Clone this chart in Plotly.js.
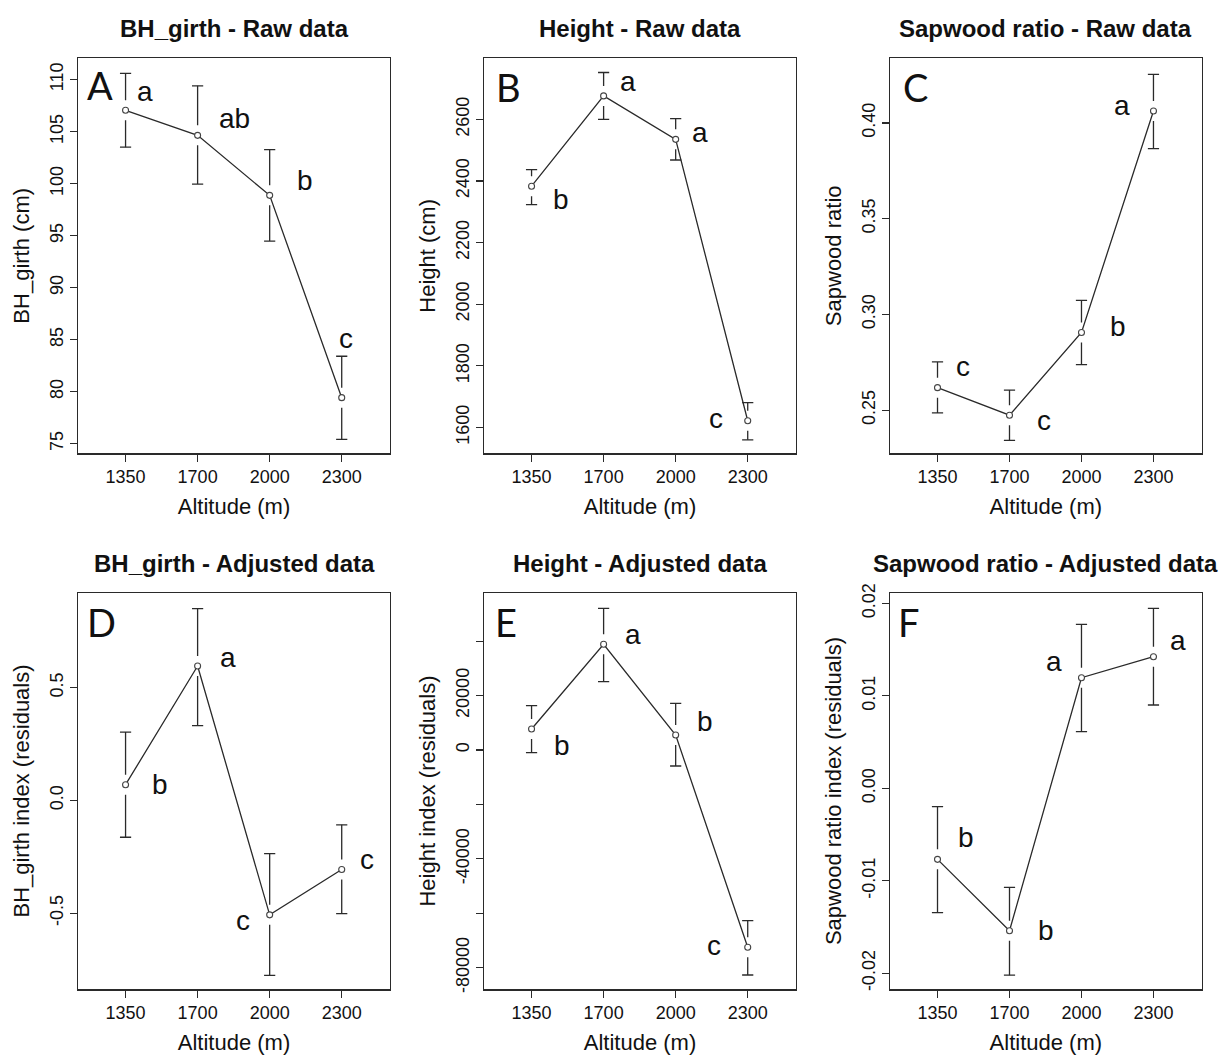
<!DOCTYPE html>
<html><head><meta charset="utf-8">
<script src="https://cdn.plot.ly/plotly-3.0.1.min.js"></script>
<style>html,body{margin:0;padding:0;background:#fff}#chart{width:1223px;height:1055px}</style>
</head><body><div id="chart"></div>
<script>
// ---------------- DATA ----------------
const altitudes = ['1350', '1700', '2000', '2300'];

const girthRawMean  = [107.05, 104.64, 98.87, 79.42];
const girthRawUpper = [110.6, 109.4, 103.27, 83.4];
const girthRawLower = [103.5, 99.96, 94.48, 75.4];
const girthRawLetters = ['a', 'ab', 'b', 'c'];

const heightRawMean  = [2383, 2676, 2535, 1622];
const heightRawUpper = [2437, 2752, 2602, 1681];
const heightRawLower = [2323, 2600, 2468, 1560];
const heightRawLetters = ['b', 'a', 'a', 'c'];

const sapRawMean  = [0.2618, 0.2474, 0.2906, 0.4063];
const sapRawUpper = [0.2752, 0.2605, 0.3074, 0.4254];
const sapRawLower = [0.2486, 0.2343, 0.2738, 0.3866];
const sapRawLetters = ['c', 'c', 'b', 'a'];

const girthAdjMean  = [0.070, 0.596, -0.507, -0.306];
const girthAdjUpper = [0.303, 0.850, -0.236, -0.108];
const girthAdjLower = [-0.163, 0.332, -0.775, -0.502];
const girthAdjLetters = ['b', 'a', 'c', 'c'];

const heightAdjMean  = [7718, 38846, 5513, -72510];
const heightAdjUpper = [16280, 52077, 17163, -62734];
const heightAdjLower = [-992, 25101, -5880, -82690];
const heightAdjLetters = ['b', 'a', 'b', 'c'];

const sapAdjMean  = [-0.00768, -0.0154, 0.01196, 0.01423];
const sapAdjUpper = [-0.00199, -0.0107, 0.01773, 0.01946];
const sapAdjLower = [-0.01345, -0.0202, 0.00612, 0.00901];
const sapAdjLetters = ['b', 'b', 'a', 'a'];

// tick values / labels
const girthRawTicks = [75, 80, 85, 90, 95, 100, 105, 110];
const girthRawTickText = ['75', '80', '85', '90', '95', '100', '105', '110'];
const heightRawTicks = [1600, 1800, 2000, 2200, 2400, 2600];
const heightRawTickText = ['1600', '1800', '2000', '2200', '2400', '2600'];
const sapRawTicks = [0.25, 0.30, 0.35, 0.40];
const sapRawTickText = ['0.25', '0.30', '0.35', '0.40'];
const girthAdjTicks = [-0.5, 0.0, 0.5];
const girthAdjTickText = ['-0.5', '0.0', '0.5'];
const heightAdjTicks = [-80000, -60000, -40000, -20000, 0, 20000, 40000];
const heightAdjTickText = ['-80000', '', '-40000', '', '0', '20000', ''];
const sapAdjTicks = [-0.02, -0.01, 0.00, 0.01, 0.02];
const sapAdjTickText = ['-0.02', '-0.01', '0.00', '0.01', '0.02'];

const panelTitles = ['BH_girth - Raw data', 'Height - Raw data', 'Sapwood ratio - Raw data',
  'BH_girth - Adjusted data', 'Height - Adjusted data', 'Sapwood ratio - Adjusted data'];
const yTitles = ['BH_girth (cm)', 'Height (cm)', 'Sapwood ratio',
  'BH_girth index (residuals)', 'Height index (residuals)', 'Sapwood ratio index (residuals)'];
const panelLabels = ['A', 'B', 'C', 'D', 'E', 'F'];
const xTitle = 'Altitude (m)';

// ---------------- LAYOUT CONFIG ----------------
const W = 1223, H = 1055;
const colDomains = [[78 / W, 390 / W], [484 / W, 796 / W], [890 / W, 1201.7 / W]];
const rowDomains = [[1 - 453.3 / H, 1 - 58.3 / H], [1 - 989.3 / H, 1 - 592.7 / H]];

const panels = [
  { mean: girthRawMean, up: girthRawUpper, lo: girthRawLower, letters: girthRawLetters,
    range: [74.07, 112.05], tv: girthRawTicks, tt: girthRawTickText,
    off: [[19, -17], [37, -15], [35, -13], [4, -57]], lab: [0.072, 0.932] },
  { mean: heightRawMean, up: heightRawUpper, lo: heightRawLower, letters: heightRawLetters,
    range: [1516.4, 2798], tv: heightRawTicks, tt: heightRawTickText,
    off: [[29, 15], [24, -12], [24, -5], [-32, 0]], lab: [0.080, 0.927] },
  { mean: sapRawMean, up: sapRawUpper, lo: sapRawLower, letters: sapRawLetters,
    range: [0.2275, 0.4338], tv: sapRawTicks, tt: sapRawTickText,
    off: [[25, -19], [34, 7], [37, -4], [-31, -3]], lab: [0.083, 0.927] },
  { mean: girthAdjMean, up: girthAdjUpper, lo: girthAdjLower, letters: girthAdjLetters,
    range: [-0.837, 0.921], tv: girthAdjTicks, tt: girthAdjTickText,
    off: [[34, 2], [30, -7], [-27, 8], [25, -8]], lab: [0.075, 0.927] },
  { mean: heightAdjMean, up: heightAdjUpper, lo: heightAdjLower, letters: heightAdjLetters,
    range: [-87946, 57810], tv: heightAdjTicks, tt: heightAdjTickText,
    off: [[30, 18], [29, -8], [29, -12], [-34, 0]], lab: [0.070, 0.927] },
  { mean: sapAdjMean, up: sapAdjUpper, lo: sapAdjLower, letters: sapAdjLetters,
    range: [-0.02173, 0.02115], tv: sapAdjTicks, tt: sapAdjTickText,
    off: [[28, -20], [36, 2], [-27, -14], [25, -14]], lab: [0.061, 0.927] }
];

const INK = '#2a2a2a';
const FONT = 'Liberation Sans, Arial, Helvetica, sans-serif';
const GAP_PX = 10;

const traces = [];
const layout = {
  width: W, height: H,
  margin: { l: 0, r: 0, t: 0, b: 0 },
  paper_bgcolor: '#ffffff', plot_bgcolor: '#ffffff',
  showlegend: false,
  font: { family: FONT, color: '#111' },
  annotations: []
};

panels.forEach((p, k) => {
  const row = Math.floor(k / 3), col = k % 3;
  const n = k + 1;
  const xa = 'x' + (n === 1 ? '' : n), ya = 'y' + (n === 1 ? '' : n);
  const xkey = 'xaxis' + (n === 1 ? '' : n), ykey = 'yaxis' + (n === 1 ? '' : n);
  const yd = rowDomains[row], xd = colDomains[col];
  const plotH = (yd[1] - yd[0]) * H;
  const g = GAP_PX * (p.range[1] - p.range[0]) / plotH;

  // error bar stems with a gap around the point
  const sx = [], sy = [];
  altitudes.forEach((a, i) => {
    if (p.up[i] > p.mean[i] + g) { sx.push(a, a, null); sy.push(p.up[i], p.mean[i] + g, null); }
    if (p.lo[i] < p.mean[i] - g) { sx.push(a, a, null); sy.push(p.mean[i] - g, p.lo[i], null); }
  });
  traces.push({ type: 'scatter', mode: 'lines', x: sx, y: sy, xaxis: xa, yaxis: ya,
    line: { color: INK, width: 1.3 }, hoverinfo: 'skip', connectgaps: false });
  // caps
  traces.push({ type: 'scatter', mode: 'markers', x: altitudes.concat(altitudes),
    y: p.up.concat(p.lo), xaxis: xa, yaxis: ya,
    marker: { symbol: 'line-ew', size: 8, line: { color: INK, width: 1.3 } }, hoverinfo: 'skip' });
  // means
  traces.push({ type: 'scatter', mode: 'lines+markers', x: altitudes, y: p.mean, xaxis: xa, yaxis: ya,
    line: { color: INK, width: 1.3 },
    marker: { symbol: 'circle', size: 6, color: '#ffffff', line: { color: '#444', width: 1.1 } } });

  layout[xkey] = {
    domain: xd, anchor: ya, type: 'category', range: [-0.66, 3.67],
    showline: true, mirror: true, linecolor: INK, linewidth: 1.2,
    ticks: 'outside', ticklen: 7, tickwidth: 1.2, tickcolor: INK,
    tickfont: { size: 18, family: FONT, color: '#111' },
    showgrid: false, zeroline: false, fixedrange: true,
    title: { text: xTitle, font: { size: 22, family: FONT, color: '#111' }, standoff: 12 }
  };
  layout[ykey] = {
    domain: yd, anchor: xa, range: p.range,
    tickmode: 'array', tickvals: p.tv, ticktext: p.tt, tickangle: -90,
    showline: true, mirror: true, linecolor: INK, linewidth: 1.2,
    ticks: 'outside', ticklen: 7, tickwidth: 1.2, tickcolor: INK,
    tickfont: { size: 18, family: FONT, color: '#111' },
    showgrid: false, zeroline: false, fixedrange: true,
    title: { text: yTitles[k], font: { size: 22, family: FONT, color: '#111' }, standoff: 10 }
  };

  // significance letters (x given as category index)
  p.letters.forEach((L, i) => {
    layout.annotations.push({ xref: xa, yref: ya, x: i, y: p.mean[i],
      text: L, showarrow: false, xanchor: 'center', yanchor: 'middle',
      xshift: p.off[i][0], yshift: -p.off[i][1] + 2,
      font: { size: 28, family: FONT, color: '#111' } });
  });
  // panel label
  layout.annotations.push({ xref: xa + ' domain', yref: ya + ' domain', x: p.lab[0], y: p.lab[1],
    text: panelLabels[k], showarrow: false, xanchor: 'center', yanchor: 'middle',
    font: { size: 38, family: 'Lato, Open Sans, sans-serif', color: '#111' } });
  // panel title
  const titleY = row === 0 ? 1 - 28 / H : 1 - 563.3 / H;
  layout.annotations.push({ xref: 'paper', yref: 'paper', x: (xd[0] + xd[1]) / 2, y: titleY,
    text: '<b>' + panelTitles[k] + '</b>', showarrow: false, xanchor: 'center', yanchor: 'middle',
    font: { size: 24, family: FONT, color: '#111' } });
});

Plotly.newPlot('chart', traces, layout, { staticPlot: true, displayModeBar: false });
</script>
</body></html>
